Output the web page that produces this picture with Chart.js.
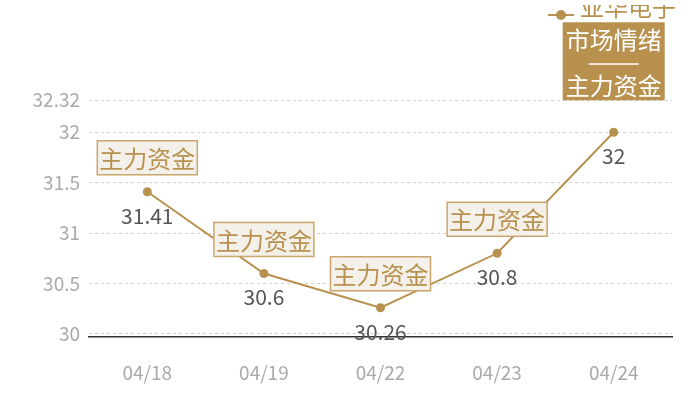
<!DOCTYPE html>
<html>
<head>
<meta charset="utf-8">
<script src="https://cdn.jsdelivr.net/npm/chart.js@4/dist/chart.umd.min.js"></script>
<style>
  html, body { margin: 0; padding: 0; background: #fff; }
  #wrap { width: 700px; height: 400px; }
</style>
</head>
<body>
<div id="wrap"><canvas id="grafico"></canvas></div>
<script>
// dados
const datas = ["04/18", "04/19", "04/22", "04/23", "04/24"];
const precos = [31.41, 30.6, 30.26, 30.8, 32];
const etiquetas = [["主力资金"], ["主力资金"], ["主力资金"], ["主力资金"], ["市场情绪", "——", "主力资金"]];
const ticksY = [30, 30.5, 31, 31.5, 32, 32.32];
const nomeSerie = "亚华电子";

const DOURADO = "#b8914f";
const FONTE = "'Noto Sans CJK SC', 'Noto Sans', sans-serif";

// desenha legenda, valores e caixas de etiqueta
const rotulos = {
  id: "rotulos",
  afterDatasetsDraw(chart) {
    const ctx = chart.ctx;
    const pontos = chart.getDatasetMeta(0).data;
    ctx.save();
    ctx.textAlign = "center";
    ctx.textBaseline = "middle";

    pontos.forEach((p, i) => {
      // valor abaixo do ponto
      ctx.font = "21px " + FONTE;
      ctx.fillStyle = "#555";
      ctx.fillText(String(precos[i]), p.x, p.y + 24);

      const linhas = etiquetas[i];
      if (linhas.length === 1) {
        const w = 100, h = 34;
        const x0 = p.x - w / 2, y0 = p.y - 17 - h;
        ctx.fillStyle = "#f4f0ea";
        ctx.fillRect(x0, y0, w, h);
        ctx.strokeStyle = "#c9a56d";
        ctx.lineWidth = 1.5;
        ctx.strokeRect(x0, y0, w, h);
        ctx.font = "24px " + FONTE;
        ctx.fillStyle = DOURADO;
        ctx.fillText(linhas[0], p.x, y0 + h / 2 + 1);
      } else {
        const w = 102, h = 78;
        const x0 = p.x - w / 2, y0 = p.y - 32 - h;
        ctx.fillStyle = DOURADO;
        ctx.fillRect(x0, y0, w, h);
        ctx.fillStyle = "#fff";
        ctx.font = "24px " + FONTE;
        ctx.fillText(linhas[0], p.x, y0 + 18);
        ctx.fillRect(p.x - 25, y0 + 41, 50, 1.5);
        ctx.fillText(linhas[2], p.x, y0 + 64);
      }
    });

    // legenda no canto superior direito (texto cortado no topo)
    ctx.strokeStyle = DOURADO;
    ctx.lineWidth = 2;
    ctx.beginPath();
    ctx.moveTo(548, 15);
    ctx.lineTo(574, 15);
    ctx.stroke();
    ctx.fillStyle = DOURADO;
    ctx.beginPath();
    ctx.arc(561, 15, 5, 0, Math.PI * 2);
    ctx.fill();
    ctx.beginPath();
    ctx.rect(540, 5, 160, 17);
    ctx.clip();
    ctx.font = "24px " + FONTE;
    ctx.textAlign = "left";
    ctx.fillText(nomeSerie, 580, 7);
    ctx.restore();
  },
};

new Chart(document.getElementById("grafico"), {
  type: "line",
  data: {
    labels: datas,
    datasets: [
      {
        label: nomeSerie,
        data: precos,
        borderColor: DOURADO,
        backgroundColor: DOURADO,
        borderWidth: 2,
        pointRadius: 4.5,
        pointBackgroundColor: DOURADO,
        pointBorderWidth: 0,
        tension: 0,
        fill: false,
      },
    ],
  },
  options: {
    responsive: true,
    maintainAspectRatio: false,
    animation: false,
    layout: { padding: { top: 100, right: 28, left: 0, bottom: 0 } },
    plugins: {
      legend: { display: false },
      tooltip: { enabled: false },
    },
    scales: {
      x: {
        offset: true,
        afterFit(scale) {
          scale.height = 63;
        },
        grid: { display: false, drawTicks: false },
        border: { display: true, color: "#333", width: 1.5 },
        ticks: {
          color: "#aaa",
          padding: 24,
          font: { size: 19, family: FONTE },
        },
      },
      y: {
        min: 29.97,
        max: 32.32,
        afterBuildTicks(scale) {
          scale.ticks = ticksY.map((v) => ({ value: v }));
        },
        afterFit(scale) {
          scale.width = 89;
        },
        grid: { color: "#d0d0d0", lineWidth: 1, drawTicks: false },
        border: { display: false, dash: [3, 3] },
        ticks: {
          color: "#aaa",
          padding: 9,
          font: { size: 19, family: FONTE },
          callback: (v) => String(v),
        },
      },
    },
  },
  plugins: [rotulos],
});
</script>
</body>
</html>
